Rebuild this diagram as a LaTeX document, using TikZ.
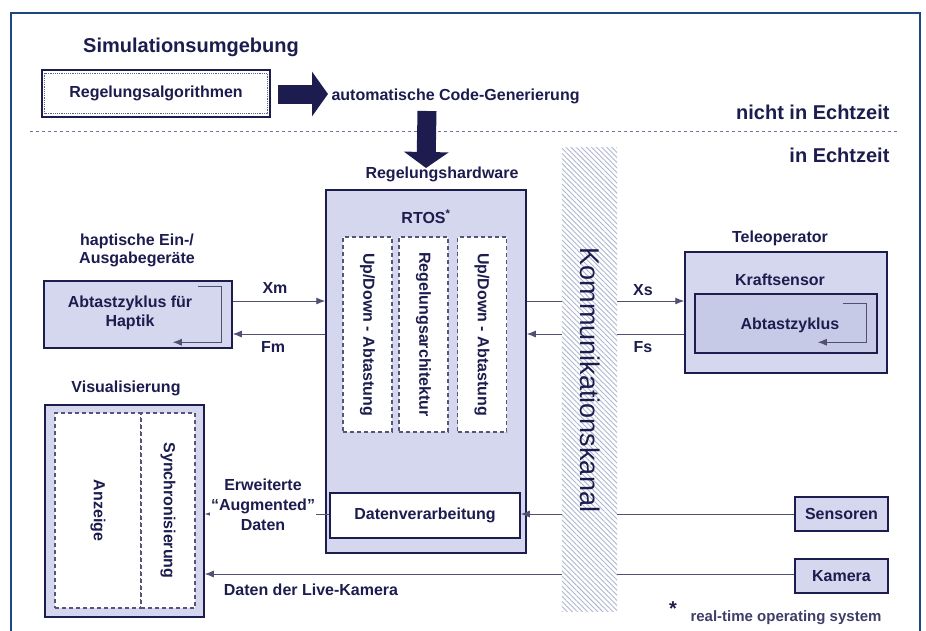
\documentclass[tikz,border=0pt]{standalone}
\usepackage{fontspec}
\setmainfont{Liberation Sans}
\usetikzlibrary{arrows.meta,patterns.meta,positioning}

\definecolor{navy}{RGB}{28,28,78}
\definecolor{lavender}{RGB}{212,215,237}
\definecolor{lavenderdark}{RGB}{198,202,230}
\definecolor{framecol}{RGB}{30,70,130}
\definecolor{hatchcol}{RGB}{175,182,208}
\definecolor{linecol}{RGB}{80,80,115}

\begin{document}
\begin{tikzpicture}[x=1pt,y=-1pt]
        \tikzstyle{every node}=[font=\fontsize{16}{19}\selectfont\bfseries, text=navy]
        \tikzstyle{block}=[draw=navy, line width=1.5pt, fill=lavender, inner sep=0pt]
        \tikzstyle{dashbox}=[draw=navy!75, dash pattern=on 4pt off 3pt, line width=1.2pt, fill=white, inner sep=0pt]
        \tikzstyle{flow}=[draw=linecol, line width=0.9pt, -{Latex[length=9pt,width=7pt]}]
        \tikzstyle{plain}=[draw=linecol, line width=0.9pt]
        \tikzstyle{bigarrow}=[draw=navy, line width=19pt, -{Triangle[length=16pt,width=44pt]}]
        \tikzstyle{title}=[font=\fontsize{20}{24}\selectfont\bfseries]

        \useasboundingbox (0,0) rectangle (926,630);
        \draw[framecol, line width=2pt] (11,640) -- (11,13) -- (920,13) -- (920,640);

        \node[title] (sim) at (191,47) {Simulationsumgebung};
        \node[draw=navy, line width=1.5pt, fill=white, minimum width=228pt, minimum height=47pt] (algo) at (156,93.5) {Regelungsalgorithmen};
        \draw[navy!70, densely dotted, line width=1.2pt] ([shift={(3.5,4)}]algo.north west) rectangle ([shift={(-3.5,-4)}]algo.south east);
        \node[anchor=west] (code) at (328,96) {automatische Code-Generierung};
        \draw[bigarrow] (algo.east |- 0,94) ++(7,0) -- (code.west |- 0,94);

        \draw[navy!60, dashed, line width=1pt] (30,131) -- (898,131);
        \node[title, anchor=east] (nicht) at (893,112) {nicht in Echtzeit};
        \node[title, anchor=east] (echt) at (893,155) {in Echtzeit};

        \node[block, minimum width=200pt, minimum height=363pt] (hw) at (426,371.5) {};
        \node (hwlabel) at (442,174) {Regelungshardware};
        \draw[bigarrow] (427,111) -- (hw.north |- 0,168);
        \node (rtos) at (426,217) {RTOS\textsuperscript{*}};
        \node[dashbox, minimum width=49pt, minimum height=195pt] (updown1) at (367.5,334.5) {};
        \node[dashbox, minimum width=49pt, minimum height=195pt] (arch) at (423.5,334.5) {};
        \node[dashbox, minimum width=49pt, minimum height=195pt] (updown2) at (482,334.5) {};
        \node[rotate=-90] at (updown1) {Up/Down - Abtastung};
        \node[rotate=-90] at (arch) {Regelungsarchitektur};
        \node[rotate=-90] at (updown2) {Up/Down - Abtastung};
        \node[draw=navy, line width=1.5pt, fill=white, minimum width=190pt, minimum height=45pt] (dv) at (425,515.5) {Datenverarbeitung};

        \node[minimum width=55pt, minimum height=463pt, fill=white] (kanal) at (589.5,379.5) {};
        \fill[pattern={Lines[angle=-45, distance=3.6pt, line width=0.9pt]}, pattern color=hatchcol] (kanal.north west) rectangle (kanal.south east);
        \node[rotate=-90, font=\fontsize{27}{30}\selectfont, text=navy] (kanaltext) at (590,380) {Kommunikationskanal};

        \node[block, minimum width=188pt, minimum height=67pt] (hapt) at (138,314.5) {};
        \node[align=center, font=\fontsize{16}{19}\selectfont\bfseries] (hapttext) at (130,313) {Abtastzyklus für\\Haptik};
        \node[align=center, font=\fontsize{16}{18}\selectfont\bfseries] (haptlabel) at (137,250) {haptische Ein-/\\Ausgabegeräte};
        \draw[flow] ([shift={(-35,6)}]hapt.north east) -- ++(24,0) -- ++(0,56) -- ++(-49,0);

        \node[block, minimum width=159pt, minimum height=212pt] (vis) at (124.5,511) {};
        \node (vislabel) at (126,388) {Visualisierung};
        \node[dashbox, minimum width=86pt, minimum height=195pt] (anzeige) at (98,510.5) {};
        \node[dashbox, minimum width=54pt, minimum height=195pt] (sync) at (168,510.5) {};
        \node[rotate=-90] at (anzeige) {Anzeige};
        \node[rotate=-90] at (sync) {Synchronisierung};

        \node[block, minimum width=202pt, minimum height=121pt] (tele) at (786,312.5) {};
        \node (telelabel) at (780,238) {Teleoperator};
        \node (kraft) at (780,280) {Kraftsensor};
        \node[block, fill=lavenderdark, minimum width=182pt, minimum height=59pt] (abtast) at (786,323.5) {};
        \node (abtasttext) at (790,325) {Abtastzyklus};
        \draw[flow] ([shift={(-35,10)}]abtast.north east) -- ++(24,0) -- ++(0,39) -- ++(-49,0);

        \node[block, minimum width=93pt, minimum height=34pt] (sens) at (841.5,514) {Sensoren};
        \node[block, minimum width=93pt, minimum height=34pt] (kam) at (841.5,576) {Kamera};

        \coordinate (xrow) at (0,301);
        \coordinate (frow) at (0,334);
        \coordinate (srow) at (0,514);
        \coordinate (krow) at (0,574);

        \draw[flow] (hapt.east |- xrow) -- (hw.west |- xrow);
        \draw[flow] (hw.west |- frow) -- (hapt.east |- frow);
        \node (xm) at (275,288) {Xm};
        \node (fm) at (273,347) {Fm};

        \draw[plain] (hw.east |- xrow) -- (kanal.west |- xrow);
        \draw[flow] (kanal.east |- xrow) -- (tele.west |- xrow);
        \draw[plain] (tele.west |- frow) -- (kanal.east |- frow);
        \draw[flow] (kanal.west |- frow) -- (hw.east |- frow);
        \node (xs) at (643,290) {Xs};
        \node (fs) at (643,347) {Fs};

        \draw[plain] (sens.west) -- (kanal.east |- srow);
        \draw[flow] (kanal.west |- srow) -- (dv.east |- srow);
        \draw[flow] (dv.west |- srow) -- (vis.east |- srow);
        \node[align=center, fill=white, inner sep=1pt, font=\fontsize{16}{20}\selectfont\bfseries] (augm) at (263,505) {Erweiterte\\``Augmented''\\Daten};

        \draw[plain] (kam.west |- krow) -- (kanal.east |- krow);
        \draw[flow] (kanal.west |- krow) -- (vis.east |- krow);
        \node (live) at (311,590) {Daten der Live-Kamera};

        \node[font=\fontsize{20}{20}\selectfont\bfseries] (star) at (673,609) {*};
        \node[font=\fontsize{15}{18}\selectfont\bfseries, text=navy!85] (rtosnote) at (786,618) {real-time operating system};
\end{tikzpicture}
\end{document}
